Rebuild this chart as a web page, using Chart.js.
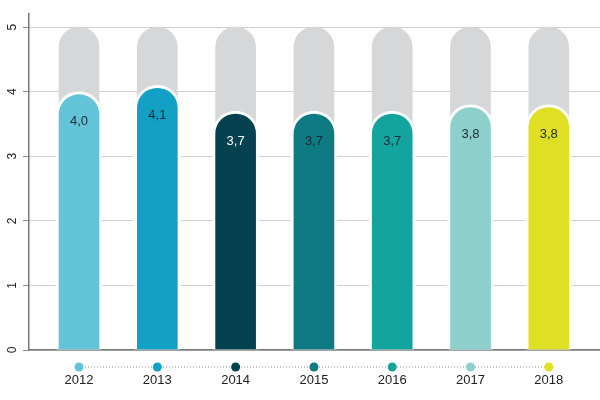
<!DOCTYPE html>
<html>
<head>
<meta charset="utf-8">
<script src="https://cdn.jsdelivr.net/npm/chart.js@4/dist/chart.umd.min.js"></script>
<style>
  body { margin: 0; background: #fff; }
</style>
</head>
<body>
<canvas id="grafico" width="600" height="400"></canvas>
<script>
const years = ['2012', '2013', '2014', '2015', '2016', '2017', '2018'];
const scores = [4.0, 4.1, 3.7, 3.7, 3.7, 3.8, 3.8];
const maxScore = [5, 5, 5, 5, 5, 5, 5];
const yTicks = [0, 1, 2, 3, 4, 5];

const barColors = ['#63c3d8', '#12a0c4', '#06414f', '#0d7b81', '#13a59d', '#8ccfcb', '#dfdf26'];
const labelColors = ['#1b2b33', '#1b2b33', '#ffffff', '#1b2b33', '#1b2b33', '#1b2b33', '#1b2b33'];
const FONT = '"Liberation Sans", Arial, sans-serif';

// dots + dotted line under the axis, and the value labels inside the bars
const extras = {
  id: 'extras',
  afterDraw(chart) {
    const c = chart.ctx;
    const x = chart.scales.x;
    const yDot = x.top + 17;
    c.save();
    c.strokeStyle = '#8a8a8a';
    c.lineWidth = 1;
    c.setLineDash([1, 2]);
    c.beginPath();
    c.moveTo(x.getPixelForValue(0), yDot);
    c.lineTo(x.getPixelForValue(years.length - 1), yDot);
    c.stroke();
    c.setLineDash([]);
    years.forEach((y, i) => {
      c.fillStyle = barColors[i];
      c.beginPath();
      c.arc(x.getPixelForValue(i), yDot, 4.5, 0, Math.PI * 2);
      c.fill();
    });

    const meta = chart.getDatasetMeta(0);
    c.font = '13px ' + FONT;
    c.textAlign = 'center';
    c.textBaseline = 'middle';
    meta.data.forEach((el, i) => {
      c.fillStyle = labelColors[i];
      c.fillText(scores[i].toFixed(1).replace('.', ','), el.x, el.y + 30);
    });
    c.restore();
  }
};

new Chart(document.getElementById('grafico'), {
  type: 'bar',
  data: {
    datasets: [{
      label: 'Nota',
      data: scores.map((v, i) => ({ x: i, y: v })),
      backgroundColor: barColors,
      borderColor: '#ffffff',
      borderWidth: { top: 3, left: 3, right: 3, bottom: 0 },
      borderSkipped: 'bottom',
      borderRadius: 23,
      barThickness: 46,
      grouped: false,
      order: 0
    }, {
      label: 'Máximo',
      data: maxScore.map((v, i) => ({ x: i, y: v })),
      backgroundColor: '#d5d7d9',
      borderWidth: 0,
      borderSkipped: 'bottom',
      borderRadius: 20,
      barThickness: 40,
      grouped: false,
      order: 1
    }]
  },
  options: {
    responsive: false,
    animation: false,
    layout: { padding: { top: 13.6, right: 0, left: 0, bottom: 0 } },
    plugins: {
      legend: { display: false },
      tooltip: { enabled: false }
    },
    scales: {
      x: {
        type: 'linear',
        offset: false,
        min: -0.639,
        max: 6.654,
        afterBuildTicks: s => { s.ticks = years.map((_, i) => ({ value: i })); },
        afterFit: s => { s.height = 50; },
        grid: { display: false, drawTicks: false },
        border: { display: true, color: '#777', width: 1.5 },
        ticks: {
          padding: 23,
          color: '#222',
          font: { family: FONT, size: 13 },
          callback: v => years[v]
        }
      },
      y: {
        min: 0,
        max: 5.2,
        afterBuildTicks: s => { s.ticks = yTicks.map(v => ({ value: v })); },
        afterFit: s => { s.width = 29; },
        grid: { color: '#cfcfcf', lineWidth: 1, tickLength: 6, tickColor: '#8a8a8a' },
        border: { display: true, color: '#777', width: 1.5 },
        ticks: {
          minRotation: 90,
          maxRotation: 90,
          crossAlign: 'center',
          padding: 7,
          color: '#222',
          font: { family: FONT, size: 12 }
        }
      }
    }
  },
  plugins: [extras]
});
</script>
</body>
</html>
